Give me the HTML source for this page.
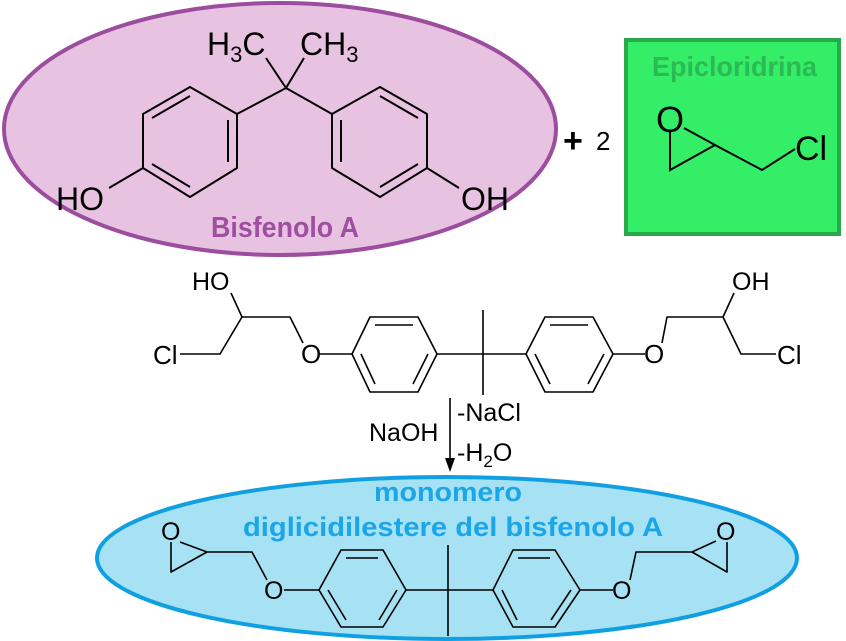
<!DOCTYPE html>
<html><head><meta charset="utf-8"><style>
html,body{margin:0;padding:0;background:#fff;}
svg{display:block;}
text{font-family:"Liberation Sans",Arial,sans-serif;fill:#000;}
.b{font-weight:bold;}
</style></head><body>
<svg width="846" height="641" viewBox="0 0 846 641" xmlns="http://www.w3.org/2000/svg">
<ellipse cx="280" cy="129" rx="276" ry="126" fill="#e8c3e1" stroke="#9c4d9e" stroke-width="4"/>
<g stroke="#000" stroke-width="2" fill="none" stroke-linejoin="round">
 <polyline points="266,58 286,88 304,58"/>
 <line x1="286" y1="88" x2="237" y2="114"/>
 <line x1="286" y1="88" x2="332" y2="114"/>
 <polygon points="190,87 237,114 237,168 190,197 143,168 143,114"/>
 <line x1="190" y1="96" x2="152" y2="118"/>
 <line x1="228" y1="120" x2="228" y2="162"/>
 <line x1="152" y1="164" x2="190" y2="187"/>
 <polygon points="380,87 427,114 427,168 380,197 332,168 332,114"/>
 <line x1="380" y1="96" x2="418" y2="118"/>
 <line x1="341" y1="120" x2="341" y2="162"/>
 <line x1="418" y1="164" x2="380" y2="187"/>
 <line x1="143" y1="168" x2="109" y2="188"/>
 <line x1="427" y1="168" x2="459" y2="188"/>
</g>
<text x="207" y="55" font-size="32">H<tspan font-size="22" dy="7">3</tspan><tspan dy="-7">C</tspan></text>
<text x="300" y="55" font-size="32">CH<tspan font-size="22" dy="7">3</tspan></text>
<text x="56" y="210" font-size="32">HO</text>
<text x="461" y="210" font-size="32">OH</text>
<text x="211" y="237" font-size="29" class="b" style="fill:#a04ea2" textLength="148" lengthAdjust="spacingAndGlyphs">Bisfenolo A</text>

<text x="563" y="152" font-size="34" class="b">+</text>
<text x="596" y="150" font-size="26">2</text>

<rect x="626" y="40" width="213" height="194" fill="#33ee66" stroke="#2aa84c" stroke-width="4"/>
<text x="652" y="76" font-size="28" class="b" style="fill:#2cba55" textLength="165" lengthAdjust="spacingAndGlyphs">Epicloridrina</text>
<text x="656" y="132" font-size="36">O</text>
<text x="795" y="160" font-size="34">Cl</text>
<g stroke="#000" stroke-width="2" fill="none">
 <polyline points="670,132 670,170 715,145 684,128"/>
 <polyline points="715,145 762,170 795,149"/>
</g>

<g stroke="#000" stroke-width="1.6" fill="none" stroke-linejoin="round">
 <polyline points="180,354 220,354 242,317 290,317 303,343"/>
 <line x1="231" y1="293" x2="242" y2="317"/>
 <line x1="320" y1="354" x2="352" y2="354"/>
 <polygon points="352,354 370,317 418,317 437,354 418,392 370,392"/>
 <line x1="375" y1="325" x2="413" y2="325"/>
 <line x1="428" y1="354" x2="413" y2="384"/>
 <line x1="361" y1="354" x2="375" y2="384"/>
 <line x1="437" y1="354" x2="526" y2="354"/>
 <line x1="483" y1="310" x2="483" y2="395"/>
 <polygon points="526,354 545,317 593,317 613,354 593,392 545,392"/>
 <line x1="550" y1="325" x2="588" y2="325"/>
 <line x1="535" y1="354" x2="550" y2="384"/>
 <line x1="604" y1="354" x2="588" y2="384"/>
 <line x1="613" y1="354" x2="645" y2="354"/>
 <polyline points="662,343 667,317 723,317 741,354 776,354"/>
 <line x1="723" y1="317" x2="734" y2="293"/>
 <line x1="450" y1="398" x2="450" y2="460"/>
</g>
<polygon points="445,458 455,458 450,472" fill="#000"/>
<text x="192" y="290" font-size="25">HO</text>
<text x="732" y="290" font-size="25">OH</text>
<text x="153" y="364" font-size="26">Cl</text>
<text x="777" y="364" font-size="26">Cl</text>
<text x="301" y="363" font-size="26">O</text>
<text x="644" y="363" font-size="26">O</text>
<text x="369" y="441" font-size="25">NaOH</text>
<text x="457" y="421" font-size="25">-NaCl</text>
<text x="457" y="461" font-size="25">-H<tspan font-size="17" dy="6">2</tspan><tspan dy="-6">O</tspan></text>

<ellipse cx="447" cy="558" rx="350" ry="81" fill="#a6e2f3" stroke="#10a0e2" stroke-width="4"/>
<text x="448" y="501" font-size="27" class="b" text-anchor="middle" style="fill:#1aa6e8" textLength="148" lengthAdjust="spacingAndGlyphs">monomero</text>
<text x="243" y="536" font-size="27" class="b" style="fill:#1aa6e8" textLength="420" lengthAdjust="spacingAndGlyphs">diglicidilestere del bisfenolo A</text>
<g stroke="#000" stroke-width="1.6" fill="none" stroke-linejoin="round">
 <polyline points="180,542 207,552 171,572 171,542"/>
 <polyline points="207,552 252,552 267,580"/>
 <line x1="284" y1="590" x2="319" y2="590"/>
 <polygon points="319,590 341,550 383,550 406,590 383,627 341,627"/>
 <line x1="346" y1="558" x2="378" y2="558"/>
 <line x1="328" y1="590" x2="346" y2="620"/>
 <line x1="397" y1="590" x2="379" y2="620"/>
 <line x1="406" y1="590" x2="493" y2="590"/>
 <line x1="448" y1="545" x2="448" y2="636"/>
 <polygon points="493,590 513,550 555,550 580,590 555,627 513,627"/>
 <line x1="518" y1="558" x2="550" y2="558"/>
 <line x1="502" y1="590" x2="517" y2="620"/>
 <line x1="571" y1="590" x2="551" y2="620"/>
 <line x1="580" y1="590" x2="613" y2="590"/>
 <polyline points="630,580 636,552 692,552 727,572 727,542"/>
 <line x1="692" y1="552" x2="716" y2="541"/>
</g>
<text x="161" y="540" font-size="25">O</text>
<text x="264" y="599" font-size="25">O</text>
<text x="612" y="599" font-size="25">O</text>
<text x="716" y="540" font-size="25">O</text>
</svg>
</body></html>
